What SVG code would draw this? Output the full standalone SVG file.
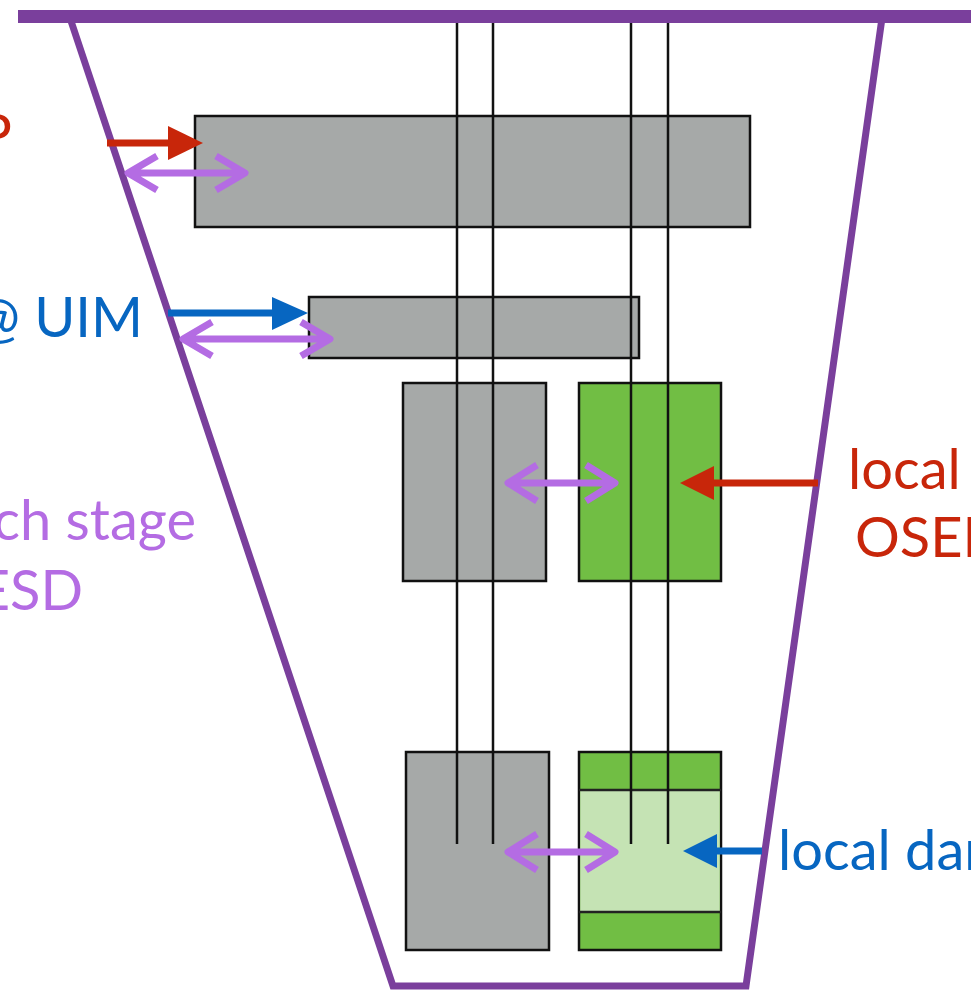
<svg xmlns="http://www.w3.org/2000/svg" width="971" height="990" viewBox="0 0 971 990">
<style>
.gray{fill:#A6A9A8;stroke:#111;stroke-width:2.5}
.green{fill:#71BE44;stroke:#111;stroke-width:2.5}
.vline{stroke:#111;stroke-width:2.5;fill:none}
.dbl{stroke:#B46CE3;stroke-width:7;fill:none;stroke-linecap:butt;stroke-linejoin:round}
.lbl{font-family:Lato,"Open Sans",sans-serif;font-size:56px}
</style>
<rect width="971" height="990" fill="#fff"/>
<g id="frame">
<polyline points="70,18 393,986 746,986 882,18" fill="none" stroke="#7A3F9C" stroke-width="7"/>
<rect x="18" y="10" width="953" height="13" fill="#7A3F9C"/>
</g>
<g id="box1"><rect class="gray" x="195" y="116" width="555" height="111"/></g>
<g id="box2"><rect class="gray" x="309" y="297" width="330" height="61"/></g>
<g id="box3"><rect class="gray" x="403" y="383" width="143" height="198"/></g>
<g id="box4"><rect class="green" x="579" y="383" width="142" height="198"/></g>
<g id="box5"><rect class="gray" x="406" y="752" width="143" height="198"/></g>
<g id="box6">
<rect class="green" x="579" y="752" width="142" height="198"/>
<rect x="580.25" y="790" width="139.5" height="122" fill="#C5E3B4"/>
<line x1="579" y1="790" x2="721" y2="790" stroke="#222" stroke-width="2.5"/>
<line x1="579" y1="912" x2="721" y2="912" stroke="#222" stroke-width="2.5"/>
</g>
<g id="connectors">
<line class="vline" x1="457" y1="23" x2="457" y2="844"/>
<line class="vline" x1="493" y1="23" x2="493" y2="844"/>
<line class="vline" x1="631" y1="23" x2="631" y2="844"/>
<line class="vline" x1="668" y1="23" x2="668" y2="844"/>
<!-- red arrow top -->
<line x1="107" y1="143" x2="172" y2="143" stroke="#C8260A" stroke-width="7"/>
<polygon points="168,126 203,143 168,160" fill="#C8260A"/>
<!-- purple double top -->
<path class="dbl" d="M127,173 H246 M157,156 L128,173 L157,190 M216,156 L245,173 L216,190"/>
<!-- blue arrow -->
<line x1="168" y1="313" x2="276" y2="313" stroke="#0766C1" stroke-width="7"/>
<polygon points="272,297 308,313 272,330" fill="#0766C1"/>
<!-- purple double 2 -->
<path class="dbl" d="M182,339 H331 M212,322 L183,339 L212,356 M301,322 L330,339 L301,356"/>
<!-- middle purple double -->
<path class="dbl" d="M507,483 H616 M537,465 L508,483 L537,501 M586,465 L615,483 L586,501"/>
<!-- red arrow right -->
<line x1="818" y1="483" x2="710" y2="483" stroke="#C8260A" stroke-width="7"/>
<polygon points="714,466 680,483 714,500" fill="#C8260A"/>
<!-- bottom purple double -->
<path class="dbl" d="M507,852 H616 M537,834 L508,852 L537,870 M586,834 L615,852 L586,870"/>
<!-- blue arrow right -->
<line x1="762" y1="851" x2="712" y2="851" stroke="#0766C1" stroke-width="7"/>
<polygon points="717,834 683,851 717,868" fill="#0766C1"/>
</g>
<g id="labels">
<text class="lbl" x="12" y="154" text-anchor="end" fill="#C8260A">P</text>
<text class="lbl" x="143" y="337" text-anchor="end" fill="#0766C1">@ UIM</text>
<text class="lbl" x="196" y="540" text-anchor="end" fill="#B46CE3">ch stage</text>
<text class="lbl" x="83" y="610" text-anchor="end" fill="#B46CE3">ESD</text>
<text class="lbl" x="848" y="489" fill="#C8260A">local</text>
<text class="lbl" x="855" y="557" fill="#C8260A">OSEP</text>
<text class="lbl" x="778" y="870" fill="#0766C1">local dar</text>
</g>
</svg>
